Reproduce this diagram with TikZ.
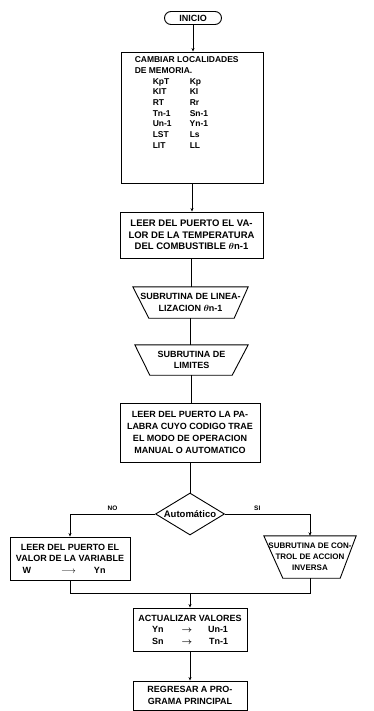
\documentclass[tikz,border=0pt]{standalone}
\usepackage{amsmath}
\usepackage{fontspec}
\setmainfont{Liberation Sans}
\usetikzlibrary{shapes.geometric,arrows.meta}
\newcommand\txtsize[2]{\fontsize{#1}{#2}\selectfont}
\begin{document}
\begin{tikzpicture}[x=1pt,y=-1pt,
  flow/.style={line width=0.9pt},
  into/.style={flow,-{Stealth[length=3.5pt,width=3pt]}},
  procbox/.style={draw,line width=0.9pt,inner sep=0pt,align=center,
    font=\bfseries\txtsize{9}{11.5}},
  plain/.style={inner sep=0pt,align=center,font=\bfseries\txtsize{9}{11.5}},
  tag/.style={inner sep=0pt,font=\bfseries\txtsize{6.5}{7}}
]
\useasboundingbox (0,0) rectangle (373,711);

% terminal
\node[procbox,minimum width=57pt,minimum height=13pt,rounded corners=6.5pt,
      font=\bfseries\txtsize{9}{10}] (start) at (193,18) {INICIO};

% memory swap block
\node[procbox,minimum width=142pt,minimum height=131pt] (b1) at (192,117.5) {};
\node[anchor=north west,align=left,inner sep=0pt,font=\bfseries\txtsize{8.5}{10.7}]
  (b1txt) at ([shift={(14,5)}]b1.north west)
  {CAMBIAR LOCALIDADES\\
   DE MEMORIA.\\
   \hspace*{18pt}\makebox[37pt][l]{KpT}Kp\\
   \hspace*{18pt}\makebox[37pt][l]{KIT}KI\\
   \hspace*{18pt}\makebox[37pt][l]{RT}Rr\\
   \hspace*{18pt}\makebox[37pt][l]{Tn-1}Sn-1\\
   \hspace*{18pt}\makebox[37pt][l]{Un-1}Yn-1\\
   \hspace*{18pt}\makebox[37pt][l]{LST}Ls\\
   \hspace*{18pt}\makebox[37pt][l]{LIT}LL};

% fuel temperature read
\node[procbox,minimum width=143pt,minimum height=46pt,font=\bfseries\txtsize{9.5}{11.5}]
  (b2) at (191.5,235)
  {LEER DEL PUERTO EL VA-\\LOR DE LA TEMPERATURA\\DEL COMBUSTIBLE $\boldsymbol{\theta}$n-1};

% linearization subroutine
\node[plain,minimum width=115pt,minimum height=31pt] (t1) at (190.5,302.5)
  {SUBRUTINA DE LINEA-\\LIZACION $\boldsymbol{\theta}$n-1};
\draw[flow] (t1.north west) -- (t1.north east) -- ([xshift=-14pt]t1.south east)
  -- ([xshift=16pt]t1.south west) -- cycle;

% limits subroutine
\node[plain,minimum width=113pt,minimum height=30pt] (t2) at (191.5,360)
  {SUBRUTINA DE\\LIMITES};
\draw[flow] (t2.north west) -- (t2.north east) -- ([xshift=-16pt]t2.south east)
  -- ([xshift=15pt]t2.south west) -- cycle;

% operating mode read
\node[procbox,minimum width=140pt,minimum height=59pt,font=\bfseries\txtsize{9}{12}]
  (b3) at (190,432.5)
  {LEER DEL PUERTO LA PA-\\LABRA CUYO CODIGO TRAE\\EL MODO DE OPERACION\\MANUAL O AUTOMATICO};

% decision
\node[draw,diamond,line width=0.9pt,inner sep=0pt,minimum width=69pt,minimum height=42pt]
  (dec) at (190,514) {};
\node[inner sep=0pt,font=\bfseries\txtsize{9.5}{10}] (dectxt) at (dec.center) {Automático};

% manual branch
\node[procbox,minimum width=120pt,minimum height=43pt] (lb) at (70,558.5)
  {LEER DEL PUERTO EL\\VALOR DE LA VARIABLE\\
   \makebox[95pt]{W\hfill$\longrightarrow$\hspace{18pt}Yn\hspace{12pt}}};

% automatic branch
\node[plain,minimum width=92pt,minimum height=42pt,font=\bfseries\txtsize{8}{11}]
  (rt) at (310,557) {SUBRUTINA DE CON-\\TROL DE ACCION\\INVERSA};
\draw[flow] (rt.north west) -- (rt.north east) -- ([xshift=-16pt]rt.south east)
  -- ([xshift=19pt]rt.south west) -- cycle;

% update values
\node[procbox,minimum width=114pt,minimum height=43pt] (b4) at (190,629.5)
  {ACTUALIZAR VALORES\\
   \makebox[22pt][l]{Yn}\makebox[26pt]{$\boldsymbol{\rightarrow}$}\makebox[28pt][r]{Un-1}\\
   \makebox[22pt][l]{Sn}\makebox[26pt]{$\boldsymbol{\rightarrow}$}\makebox[28pt][r]{Tn-1}};

% return
\node[procbox,minimum width=114pt,minimum height=29pt] (b5) at (190,695.5)
  {REGRESAR A PRO-\\GRAMA PRINCIPAL};

% connectors
\coordinate (m) at (190,593);
\draw[into] (start.south) -- (b1.north -| start.south);
\draw[into] (b1.south) -- (b1.south |- b2.north);
\draw[flow] (b2.south) -- (b2.south |- t1.north);
\draw[flow] (t1.south) -- (t1.south |- t2.north);
\draw[flow] (t2.south) -- (t2.south |- b3.north);
\draw[flow] (b3.south) -- (dec.north);
\draw[into] (dec.west) -| node[tag,pos=0.25,above=3pt] (no) {NO} (lb.north);
\draw[into] (dec.east) -| node[tag,pos=0.19,above=3pt] (si) {SI} (rt.north);
\draw[flow] (lb.south) |- (m);
\draw[flow] (rt.south) |- (m);
\draw[into] (m) -- (b4.north);
\draw[into] (b4.south) -- (b5.north);
\end{tikzpicture}
\end{document}
